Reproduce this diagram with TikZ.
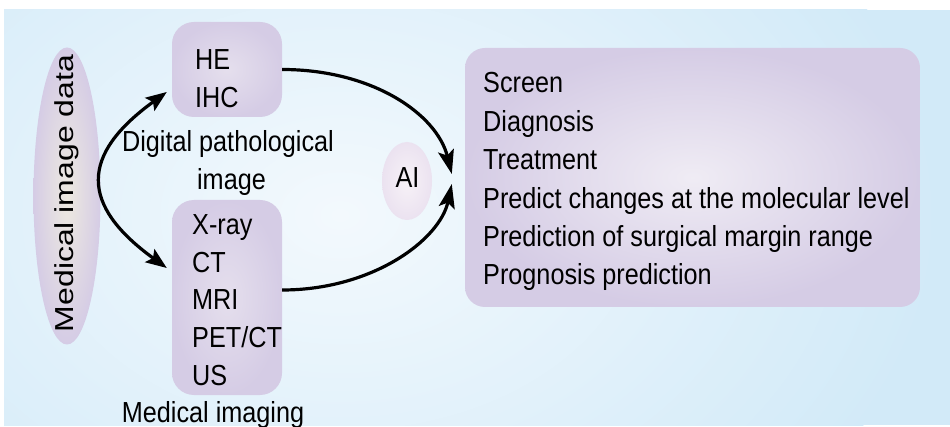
\documentclass[tikz,border=0pt]{standalone}
\usepackage{fontspec}
\setmainfont{Liberation Sans}
\newfontfamily\lblfam{Liberation Sans}[FakeStretch=0.87]
\usetikzlibrary{arrows.meta,calc,shapes.geometric}
\definecolor{bgblue}{RGB}{210,234,248}
\definecolor{glow}{RGB}{243,249,253}
\definecolor{lav}{RGB}{213,204,229}
\definecolor{lavlight}{RGB}{229,223,237}
\definecolor{cream}{RGB}{237,233,224}
\definecolor{aiin}{RGB}{247,242,247}
\definecolor{aiout}{RGB}{235,226,240}
\begin{document}
\begin{tikzpicture}[x=1pt,y=-1pt,
  lbl/.style={inner sep=0pt, font=\fontsize{29}{34}\selectfont\lblfam},
  lblw/.style={lbl, anchor=base west},
  lblc/.style={lbl, anchor=base},
  box/.style={rectangle, rounded corners=22pt, inner sep=0pt, inner color=lavlight, outer color=lav},
  arr/.style={line width=3.2pt, black},
  bighead/.tip={Stealth[length=24pt,width=16pt,inset=5pt]},
  smallhead/.tip={Stealth[length=21pt,width=16pt,inset=4pt]}
]
\useasboundingbox (0,0) rectangle (950,427);
\fill[white] (0,0) rectangle (950,427);
\fill[bgblue] (4,10) rectangle (950,425);
\begin{scope}
  \clip (4,10) rectangle (950,425);
  \shade[inner color=glow, outer color=bgblue] (340,215) ellipse [x radius=600, y radius=430];
\end{scope}

% shapes
\node[ellipse, minimum width=67pt, minimum height=297pt, inner sep=0pt, inner color=cream, outer color=lav] (mid) at (67,196) {};
\node[box, minimum width=110pt, minimum height=95pt] (he) at (227,69.5) {};
\node[box, minimum width=110pt, minimum height=195pt] (xray) at (227,297.5) {};
\node[ellipse, minimum width=50pt, minimum height=78pt, inner sep=0pt, inner color=aiin, outer color=aiout] (ai) at (407,181) {};
\node[box, rounded corners=20pt, minimum width=455pt, minimum height=259pt, inner color=lavlight!60!white, outer color=lav] (out) at (692.5,177.5) {};

% texts
\node[inner sep=0pt, anchor=base, rotate=90, font=\fontsize{26}{30}\selectfont] (midT) at (73,193.5) {\scalebox{1.23}[1]{Medical image data}};
\node[lblw] (heT1) at (195,70) {HE};
\node[lblw] (heT2) at (195,108) {IHC};
\node[lblc] (dpT1) at (228,152) {Digital pathological};
\node[lblc] (dpT2) at (231.5,190) {image};
\node[lblw] (xT1) at (192,235) {X-ray};
\node[lblw] (xT2) at (192,272.5) {CT};
\node[lblw] (xT3) at (192,310) {MRI};
\node[lblw] (xT4) at (192,347.5) {PET/CT};
\node[lblw] (xT5) at (192,385) {US};
\node[lblc] (miT) at (213,422) {Medical imaging};
\node[lblc] (aiT) at (407.5,188) {AI};
\node[lblw] (oT1) at (483,93) {Screen};
\node[lblw] (oT2) at (483,131.4) {Diagnosis};
\node[lblw] (oT3) at (483,169.8) {Treatment};
\node[lblw] (oT4) at (483,208.2) {Predict changes at the molecular level};
\node[lblw] (oT5) at (483,246.6) {Prediction of surgical margin range};
\node[lblw] (oT6) at (483,285) {Prognosis prediction};

% connector ends
\coordinate (tipA) at ($(out.west)+(-13,-3.5)$);
\coordinate (tipB) at ($(out.west)+(-13,6.5)$);
\coordinate (srcB) at ($(xray.east)+(0,-7.5)$);
\coordinate (tipT) at ($(he.west)+(-5,22.5)$);
\coordinate (tipD) at ($(xray.west)+(-5,-29.5)$);

% connectors
\draw[arr, -{bighead}] (he.east) .. controls +(90,0) and +(-15,-60) .. (tipA);
\draw[arr, -{bighead}] (srcB) .. controls +(90,0) and +(-12,56) .. (tipB);
\draw[arr, {smallhead}-{smallhead}] (tipT) .. controls +(-87,63) and +(-87,-63) .. (tipD);
\end{tikzpicture}
\end{document}
